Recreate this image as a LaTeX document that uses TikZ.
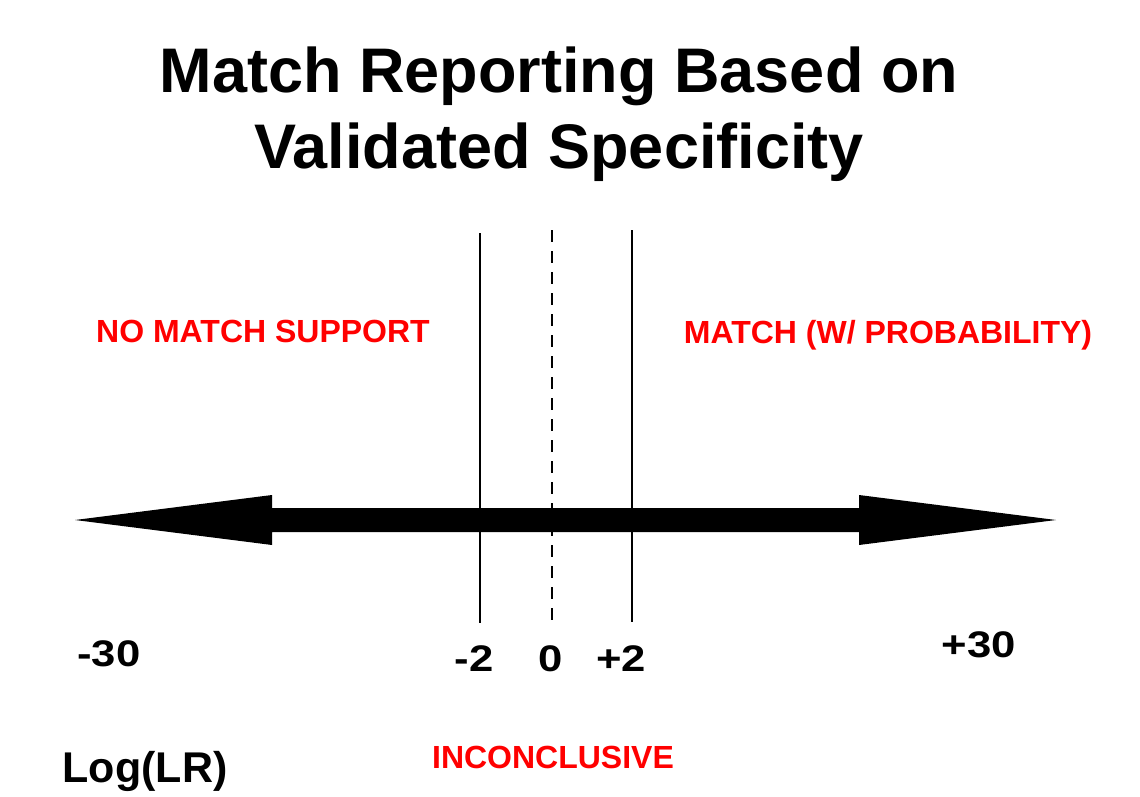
\documentclass[tikz,border=0pt]{standalone}
\usepackage{fontspec}
\setmainfont{Liberation Sans}
\newfontfamily\numfont[FakeStretch=1.18]{Liberation Sans Bold}
\usetikzlibrary{calc}

\definecolor{clred}{rgb}{1.0,0.0,0.0}
\definecolor{clblack}{rgb}{0.0,0.0,0.0}

\begin{document}
\begin{tikzpicture}[x=1bp,y=-1bp,
    lbl/.style={inner sep=0pt,anchor=base,text=clred,font=\bfseries\fontsize{32bp}{38bp}\selectfont},
    num/.style={inner sep=0pt,anchor=base,text=clblack,font=\numfont\fontsize{37bp}{44bp}\selectfont},
    bound/.style={draw=clblack,line width=2bp},
    zero/.style={draw=clblack,line width=2.4bp,dash pattern=on 12bp off 9bp}]
	\useasboundingbox (0,0) rectangle (1140,797);
	%
	\node[inner sep=0pt,anchor=base,font=\bfseries\fontsize{63bp}{75bp}\selectfont] (title1) at (559,93) {Match Reporting Based on};
	\node[inner sep=0pt,anchor=base,font=\bfseries\fontsize{63bp}{75bp}\selectfont] (title2) at (559,168) {Validated Specificity};
	%
	\node[lbl] (nomatch) at (263,342) {NO MATCH SUPPORT};
	\node[lbl] (match) at (888,343) {MATCH (W/ PROBABILITY)};
	\node[lbl] (incon) at (553,768) {INCONCLUSIVE};
	%
	\node[num] (m30) at (109,666) {-30};
	\node[num] (p30) at (979,657) {+30};
	\node[num] (m2) at (474,671) {-2};
	\node[num] (z0) at (551,671) {0};
	\node[num] (p2) at (621,671) {+2};
	\node[inner sep=0pt,anchor=base,font=\bfseries\fontsize{43bp}{52bp}\selectfont] (logl) at (145,782) {Log(LR)};
	%
	\coordinate (lo) at (75,520);
	\coordinate (hi) at (1056,520);
	\coordinate (m2top) at (480,233);
	\coordinate (m2bot) at (480,623);
	\coordinate (z0top) at (552,230);
	\coordinate (z0bot) at (552,620);
	\coordinate (p2top) at (632,230);
	\coordinate (p2bot) at (632,622);
	%
	\draw[bound] (m2top) -- (m2bot);
	\draw[zero] (z0top) -- (z0bot);
	\draw[bound] (p2top) -- (p2bot);
	%
	% double headed axis arrow
	\fill[clblack] (lo) -- ($(lo)+(197,-25)$) -- ($(lo)+(197,-12)$) -- ($(hi)+(-197,-12)$) -- ($(hi)+(-197,-25)$)
		-- (hi) -- ($(hi)+(-197,25)$) -- ($(hi)+(-197,12)$) -- ($(lo)+(197,12)$) -- ($(lo)+(197,25)$) -- cycle;
	%
\end{tikzpicture}
\end{document}
